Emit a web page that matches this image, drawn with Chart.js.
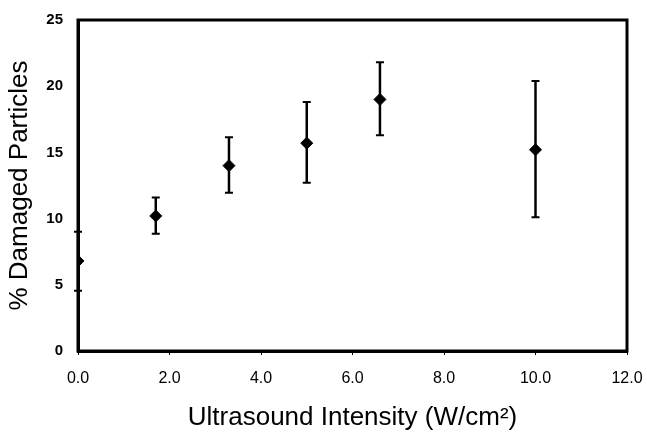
<!DOCTYPE html>
<html><head><meta charset="utf-8">
<script src="https://cdn.jsdelivr.net/npm/chart.js@4/dist/chart.umd.min.js"></script>
<style>html,body{margin:0;padding:0;background:#fff;}#wrap{width:647px;height:433px;}</style>
</head><body><div id="wrap"><canvas id="c" width="647" height="433"></canvas></div>
<script>
const intensity = [0.0, 1.7, 3.3, 5.0, 6.6, 10.0];
const damaged = [6.8, 10.2, 14.0, 15.7, 19.0, 15.2];
const errLow = [4.55, 8.85, 11.95, 12.7, 16.3, 10.1];
const errHigh = [9.0, 11.6, 16.15, 18.8, 21.8, 20.4];
const xTicks = [0, 2, 4, 6, 8, 10, 12];
const yTicks = [0, 5, 10, 15, 20, 25];

const errorBars = {
  id: 'errorBars',
  afterDatasetsDraw(chart) {
    const ctx = chart.ctx, xs = chart.scales.x, ys = chart.scales.y;
    ctx.save();
    ctx.strokeStyle = '#000';
    intensity.forEach((x, i) => {
      const px = xs.getPixelForValue(x);
      const pl = ys.getPixelForValue(errLow[i]);
      const ph = ys.getPixelForValue(errHigh[i]);
      ctx.lineWidth = 2.5;
      ctx.beginPath();
      ctx.moveTo(px, pl); ctx.lineTo(px, ph);
      ctx.stroke();
      ctx.lineWidth = 2;
      ctx.beginPath();
      ctx.moveTo(px - 4, pl); ctx.lineTo(px + 4, pl);
      ctx.moveTo(px - 4, ph); ctx.lineTo(px + 4, ph);
      ctx.stroke();
    });
    ctx.restore();
  }
};
const frame = {
  id: 'frame',
  afterDraw(chart) {
    const a = chart.chartArea, ctx = chart.ctx;
    ctx.save();
    ctx.strokeStyle = '#000';
    ctx.lineWidth = 3;
    ctx.strokeRect(a.left, a.top, a.right - a.left, a.bottom - a.top);
    ctx.restore();
  }
};

new Chart(document.getElementById('c'), {
  type: 'scatter',
  data: {
    datasets: [{
      data: intensity.map((x, i) => ({x: x, y: damaged[i]})),
      pointStyle: 'rectRot',
      pointRadius: 6,
      pointHoverRadius: 6,
      backgroundColor: '#000',
      borderColor: '#000',
      borderWidth: 1
    }]
  },
  options: {
    responsive: false,
    animation: false,
    layout: {padding: {left: 0, right: 20, top: 20, bottom: 0}},
    plugins: {legend: {display: false}, tooltip: {enabled: false}},
    scales: {
      x: {
        type: 'linear', min: 0, max: 12,
        afterBuildTicks(s) { s.ticks = xTicks.map(v => ({value: v})); },
        afterFit(s) { s.height = 82; s.paddingLeft = 0; s.paddingRight = 0; },
        border: {display: true, color: '#000', width: 3},
        grid: {drawOnChartArea: false, color: '#000', tickLength: 4, tickWidth: 1},
        ticks: {color: '#000', font: {family: 'Liberation Sans', size: 16}, padding: 14,
                callback: v => Number(v).toFixed(1)},
        title: {display: true, text: 'Ultrasound Intensity (W/cm\u00B2)', color: '#000',
                font: {family: 'Liberation Sans', size: 26}, padding: {top: 0, bottom: 0}}
      },
      y: {
        type: 'linear', min: 0, max: 25,
        afterBuildTicks(s) { s.ticks = yTicks.map(v => ({value: v})); },
        afterFit(s) { s.width = 78; s.paddingTop = 0; s.paddingBottom = 0; },
        border: {display: true, color: '#000', width: 3},
        grid: {drawOnChartArea: false, drawTicks: false},
        ticks: {color: '#000', font: {family: 'Liberation Sans', size: 15, weight: 'bold'}, padding: 15},
        title: {display: true, text: '% Damaged Particles', color: '#000',
                font: {family: 'Liberation Sans', size: 26}, padding: {top: 4, bottom: 0}}
      }
    }
  },
  plugins: [errorBars, frame]
});
</script></body></html>
